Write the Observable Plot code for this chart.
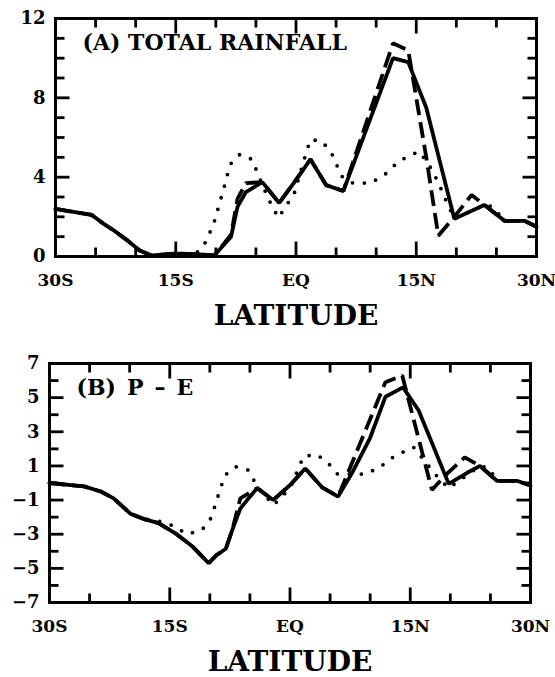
<!DOCTYPE html>
<html>
<head>
<meta charset="utf-8">
<script src="https://cdn.jsdelivr.net/npm/d3@7"></script>
<script src="https://cdn.jsdelivr.net/npm/@observablehq/plot@0.6"></script>
<style>
  html, body { margin: 0; padding: 0; background: #fff; }
  #chart svg { display: block; }
</style>
</head>
<body>
<div id="chart"></div>
<script>
// ---------- Data ----------
const xTickValues = [-30, -15, 0, 15, 30];
const xTickLabels = ["30S", "15S", "EQ", "15N", "30N"];
const xMinorTicks = [-25, -20, -10, -5, 5, 10, 20, 25];
const xMajorTicks = [-15, 0, 15];

const yTicksA = [0, 4, 8, 12];
const yMinorA = [1, 2, 3, 5, 6, 7, 9, 10, 11];
const yMajorA = [4, 8];

const yTicksB = [-7, -5, -3, -1, 1, 3, 5, 7];
const yMinorB = [-6, -4, -2, 0, 2, 4, 6];
const yMajorB = [-5, -3, -1, 1, 3, 5];

// Panel A: total rainfall
const latASolid = [-30, -27, -25.5, -24, -22.5, -21, -19.5, -18, -15, -12.5, -10.2, -8.1, -7.3, -6.25, -4.2, -2.1, -0.2, 1.8, 3.75, 5.9, 12.1, 14, 16.25, 19.75, 23.5, 26, 28.5, 30];
const rainSolid = [2.4, 2.2, 2.1, 1.65, 1.25, 0.8, 0.3, 0.05, 0.15, 0.12, 0.05, 1.0, 2.5, 3.25, 3.75, 2.7, 3.75, 4.9, 3.6, 3.3, 10.0, 9.8, 7.5, 1.9, 2.6, 1.8, 1.8, 1.5];

const latADash = [-30, -27, -25.5, -24, -22.5, -21, -19.5, -18, -15, -12.5, -10.2, -8.1, -7.3, -6.25, -4.2, -2.1, -0.2, 1.8, 3.75, 5.9, 12.1, 14, 16.25, 17.75, 19.75, 21.9, 23.5, 26, 28.5, 30];
const rainDash = [2.4, 2.2, 2.1, 1.65, 1.25, 0.8, 0.3, 0.05, 0.15, 0.12, 0.05, 1.1, 2.9, 3.7, 3.75, 2.7, 3.75, 4.9, 3.6, 3.3, 10.75, 10.4, 5.0, 1.05, 2.0, 3.1, 2.6, 1.8, 1.8, 1.5];

const latADot = [-30, -27, -25.5, -24, -22.5, -21, -19.5, -18, -15, -12.5, -11.5, -10.3, -9, -8.2, -7, -5.5, -3.5, -2.2, -0.2, 1.1, 1.8, 3.3, 4.5, 5.7, 7.1, 9.3, 11, 12.8, 15.3, 16.5, 17.8, 18.4, 19.75, 23.5, 24.6, 26, 28.5, 30];
const rainDot = [2.4, 2.2, 2.1, 1.65, 1.25, 0.8, 0.3, 0.05, 0.15, 0.15, 0.55, 1.6, 3.45, 4.65, 5.15, 4.9, 2.95, 1.95, 3.2, 5.0, 5.9, 5.8, 5.15, 4.05, 3.7, 3.7, 4.1, 4.8, 5.3, 4.7, 3.7, 3.1, 1.9, 2.6, 2.5, 1.8, 1.8, 1.5];

// Panel B: P - E
const latBSolid = [-30, -25.7, -23.6, -22, -19.9, -18.3, -16.4, -14.3, -12.2, -10.15, -9.1, -8, -7.2, -6.2, -5.35, -4.1, -2.1, 0.05, 1.9, 4, 6, 7.7, 10, 11.9, 14.1, 16.05, 19.8, 22.1, 23.7, 25.8, 28.3, 30];
const peSolid = [0, -0.2, -0.5, -0.9, -1.8, -2.1, -2.35, -2.95, -3.7, -4.7, -4.2, -3.85, -2.75, -1.5, -1.0, -0.3, -1.0, -0.1, 0.85, -0.25, -0.8, 0.55, 2.65, 5.05, 5.6, 4.25, -0.05, 0.6, 1.0, 0.13, 0.13, -0.15];

const latBDash = [-30, -25.7, -23.6, -22, -19.9, -18.3, -16.4, -14.3, -12.2, -10.15, -9.1, -8, -7.2, -6.2, -4.1, -2.1, 0.05, 1.9, 4, 6, 11.9, 14, 17.7, 19.6, 21.8, 23.7, 25.8, 28.3, 30];
const peDash = [0, -0.2, -0.5, -0.9, -1.8, -2.1, -2.35, -2.95, -3.7, -4.7, -4.2, -3.85, -2.75, -0.9, -0.3, -1.0, -0.1, 0.85, -0.25, -0.8, 5.9, 6.3, -0.4, 0.55, 1.5, 1.0, 0.13, 0.13, -0.15];

const latBDot = [-30, -25.7, -23.6, -22, -19.9, -18.3, -16.6, -14.6, -12.8, -11, -10, -9.5, -8.6, -8, -6.8, -5.2, -4.1, -2.05, 0, 1.7, 3.4, 4.95, 5.9, 9.4, 11.2, 13, 15.4, 18.5, 19.8, 23.7, 24.8, 25.8, 28.3, 30];
const peDot = [0, -0.2, -0.5, -0.9, -1.8, -2.1, -2.2, -2.5, -3.0, -2.75, -2.2, -1.55, -0.2, 0.5, 0.95, 0.76, -0.2, -1.3, -0.3, 1.57, 1.66, 1.07, 0.54, 0.52, 0.92, 1.57, 2.1, 0.3, -0.3, 1.0, 0.88, 0.13, 0.13, -0.15];

const titleA = "(A) TOTAL RAINFALL";
const titleB = "(B)\u2002P\u2002\u2013\u2002E";
const xLabel = "LATITUDE";

// ---------- Drawing ----------
const FONT = "'DejaVu Serif', 'Liberation Serif', serif";
const toRows = (xs, ys) => xs.map((x, i) => ({x, y: ys[i]}));

function panel({lat, vals, yDomain, yTicks, yMinor, yMajor, title, width, height, mt, mr, mb, ml}) {
  const [y0, y1] = yDomain;
  const plotW = width - ml - mr;
  const plotH = height - mt - mb;
  const yPerPx = (y1 - y0) / plotH;
  const xPerPx = 60 / plotW;
  const majY = 15 * yPerPx, minY = 9 * yPerPx;
  const majX = 14 * xPerPx, minX = 9 * xPerPx;

  // inward ticks as two-point line series (one z group per tick)
  const segs = [
    ...xMinorTicks.map(x => [[x, y0], [x, y0 + minY]]),
    ...xMajorTicks.map(x => [[x, y0], [x, y0 + majY]]),
    ...xMinorTicks.map(x => [[x, y1], [x, y1 - minY]]),
    ...xMajorTicks.map(x => [[x, y1], [x, y1 - majY]]),
    ...yMinor.map(y => [[-30, y], [-30 + minX, y]]),
    ...yMajor.map(y => [[-30, y], [-30 + majX, y]]),
    ...yMinor.map(y => [[30, y], [30 - minX, y]]),
    ...yMajor.map(y => [[30, y], [30 - majX, y]])
  ];
  const tickPts = segs.flatMap((s, k) => s.map(([x, y]) => ({x, y, k})));

  return Plot.plot({
    width, height,
    marginTop: mt, marginRight: mr, marginBottom: mb, marginLeft: ml,
    x: {domain: [-30, 30]},
    y: {domain: yDomain},
    style: {fontFamily: FONT, fontWeight: "bold", fontSize: "18px", color: "black", background: "white"},
    marks: [
      Plot.line(tickPts, {x: "x", y: "y", z: "k", stroke: "black", strokeWidth: 2.8, strokeLinecap: "butt"}),
      Plot.line(toRows(lat.dot, vals.dot), {x: "x", y: "y", stroke: "black", strokeWidth: 3.8, strokeDasharray: "0,12", strokeLinecap: "round"}),
      Plot.line(toRows(lat.dash, vals.dash), {x: "x", y: "y", stroke: "black", strokeWidth: 3.8, strokeDasharray: "16,7", strokeLinecap: "butt", strokeLinejoin: "miter"}),
      Plot.line(toRows(lat.solid, vals.solid), {x: "x", y: "y", stroke: "black", strokeWidth: 3.8, strokeLinejoin: "miter"}),
      Plot.frame({stroke: "black", strokeWidth: 3}),
      Plot.axisX({ticks: xTickValues, tickFormat: d => xTickLabels[xTickValues.indexOf(d)], tickSize: 0, tickPadding: 17, label: null, fontSize: 17}),
      Plot.axisY({ticks: yTicks, tickSize: 0, tickPadding: 10, label: null, fontSize: 18}),
      Plot.text([xLabel], {frameAnchor: "bottom", lineAnchor: "top", dy: 49, fontSize: 28, fontWeight: "bold", fill: "black"}),
      Plot.text([title], {frameAnchor: "top-left", textAnchor: "start", lineAnchor: "top", dx: 27, dy: 16, fontSize: 22, fontWeight: "bold", fill: "black"})
    ]
  });
}

const chart = document.getElementById("chart");
chart.append(panel({
  lat: {solid: latASolid, dash: latADash, dot: latADot},
  vals: {solid: rainSolid, dash: rainDash, dot: rainDot},
  yDomain: [0, 12], yTicks: yTicksA, yMinor: yMinorA, yMajor: yMajorA,
  title: titleA, width: 555, height: 334, mt: 18, mr: 19, mb: 78, ml: 55
}));
chart.append(panel({
  lat: {solid: latBSolid, dash: latBDash, dot: latBDot},
  vals: {solid: peSolid, dash: peDash, dot: peDot},
  yDomain: [-7, 7], yTicks: yTicksB, yMinor: yMinorB, yMajor: yMajorB,
  title: titleB, width: 555, height: 343, mt: 29, mr: 25, mb: 75, ml: 49
}));
</script>
</body>
</html>
